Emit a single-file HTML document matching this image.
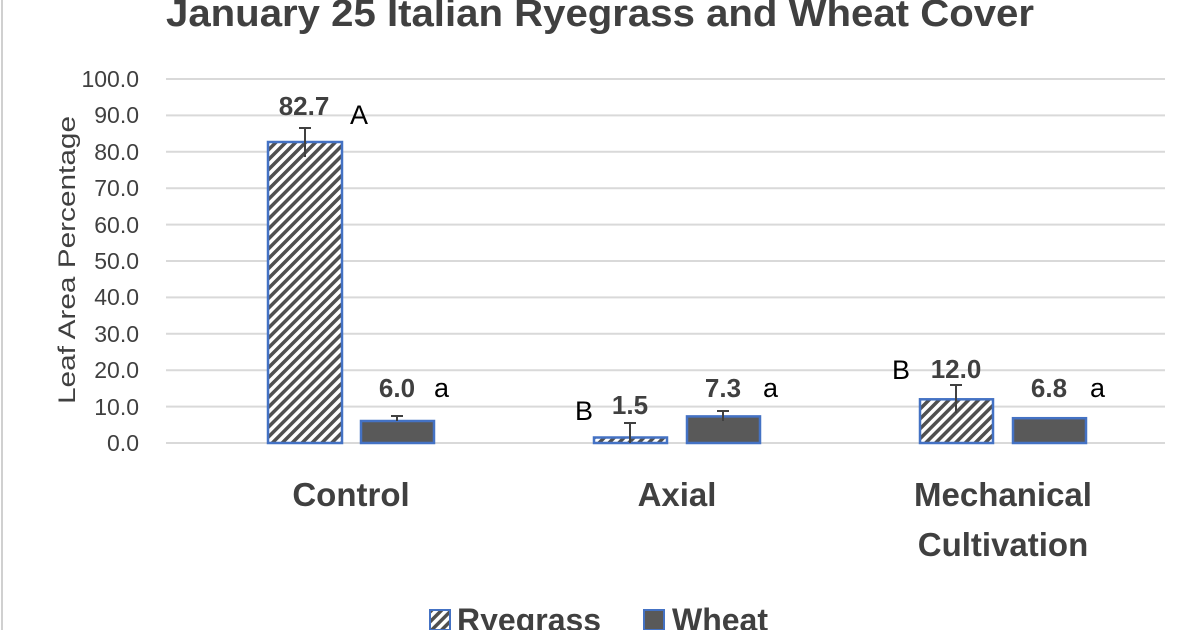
<!DOCTYPE html>
<html><head><style>
body{margin:0;background:#fff;}
svg{display:block;}
text{font-family:"Liberation Sans",sans-serif;fill:#404040;}
</style></head><body>
<svg width="1200" height="630" viewBox="0 0 1200 630">
<defs>
<pattern id="h" patternUnits="userSpaceOnUse" width="7" height="7" patternTransform="rotate(45)">
<rect width="7" height="7" fill="#fff"/><rect width="3.5" height="7" fill="#505050"/>
</pattern>
</defs>
<rect x="1" y="0" width="2" height="630" fill="#d0d0d0"/>
<text x="600" y="26" text-anchor="middle" font-size="38" font-weight="bold" fill="#505050" textLength="868" lengthAdjust="spacingAndGlyphs">January 25 Italian Ryegrass and Wheat Cover</text>
<g stroke="#d9d9d9" stroke-width="2">
<line x1="166" x2="1165" y1="79" y2="79"/><line x1="166" x2="1165" y1="115.4" y2="115.4"/>
<line x1="166" x2="1165" y1="151.8" y2="151.8"/><line x1="166" x2="1165" y1="188.2" y2="188.2"/>
<line x1="166" x2="1165" y1="224.6" y2="224.6"/><line x1="166" x2="1165" y1="261" y2="261"/>
<line x1="166" x2="1165" y1="297.4" y2="297.4"/><line x1="166" x2="1165" y1="333.8" y2="333.8"/>
<line x1="166" x2="1165" y1="370.2" y2="370.2"/><line x1="166" x2="1165" y1="406.6" y2="406.6"/>
<line x1="166" x2="1165" y1="443" y2="443"/>
</g>
<g font-size="23" text-anchor="end">
<text x="139" y="87">100.0</text><text x="139" y="123">90.0</text><text x="139" y="160">80.0</text>
<text x="139" y="196">70.0</text><text x="139" y="233">60.0</text><text x="139" y="269">50.0</text>
<text x="139" y="305">40.0</text><text x="139" y="342">30.0</text><text x="139" y="378">20.0</text>
<text x="139" y="415">10.0</text><text x="139" y="451">0.0</text>
</g>
<text transform="translate(75,260) rotate(-90)" text-anchor="middle" font-size="24" textLength="288" lengthAdjust="spacingAndGlyphs">Leaf Area Percentage</text>
<g stroke="#4472c4" stroke-width="2.5">
<rect x="268" y="142" width="74" height="301" fill="url(#h)"/>
<rect x="361" y="421" width="73" height="22" fill="#595959"/>
<rect x="594" y="437.5" width="73" height="5.5" fill="url(#h)"/>
<rect x="687" y="416.4" width="73" height="26.6" fill="#595959"/>
<rect x="920" y="399.3" width="73" height="43.7" fill="url(#h)"/>
<rect x="1013" y="418.2" width="73" height="24.8" fill="#595959"/>
</g>
<g stroke="#404040" stroke-width="2" fill="none">
<path d="M305 128V157M299 128h12"/>
<path d="M397 416V421M391 416h12"/>
<path d="M630 423V443M624 423h12"/>
<path d="M723 411V421M717 411h12"/>
<path d="M956 385V413M950 385h12"/>
</g>
<g font-size="26" font-weight="bold">
<text x="304" y="115" text-anchor="middle">82.7</text>
<text x="397" y="397" text-anchor="middle">6.0</text>
<text x="630" y="414" text-anchor="middle">1.5</text>
<text x="723" y="397" text-anchor="middle">7.3</text>
<text x="956" y="378" text-anchor="middle">12.0</text>
<text x="1049" y="397" text-anchor="middle">6.8</text>
</g>
<g font-size="27">
<text x="350" y="124" style="fill:#000">A</text>
<text x="434" y="397" style="fill:#000">a</text>
<text x="575" y="420" style="fill:#000">B</text>
<text x="763" y="397" style="fill:#000">a</text>
<text x="892" y="379" style="fill:#000">B</text>
<text x="1090" y="397" style="fill:#000">a</text>
</g>
<g font-size="33" font-weight="bold" text-anchor="middle">
<text x="351" y="506">Control</text>
<text x="677" y="506">Axial</text>
<text x="1003" y="506">Mechanical</text>
<text x="1003" y="556">Cultivation</text>
</g>
<rect x="430" y="610" width="20" height="20" fill="url(#h)" stroke="#4472c4" stroke-width="2"/>
<text x="457" y="631" font-size="32" font-weight="bold">Ryegrass</text>
<rect x="644" y="610" width="20" height="20" fill="#595959" stroke="#4472c4" stroke-width="2"/>
<text x="672" y="631" font-size="32" font-weight="bold">Wheat</text>
</svg>
</body></html>
